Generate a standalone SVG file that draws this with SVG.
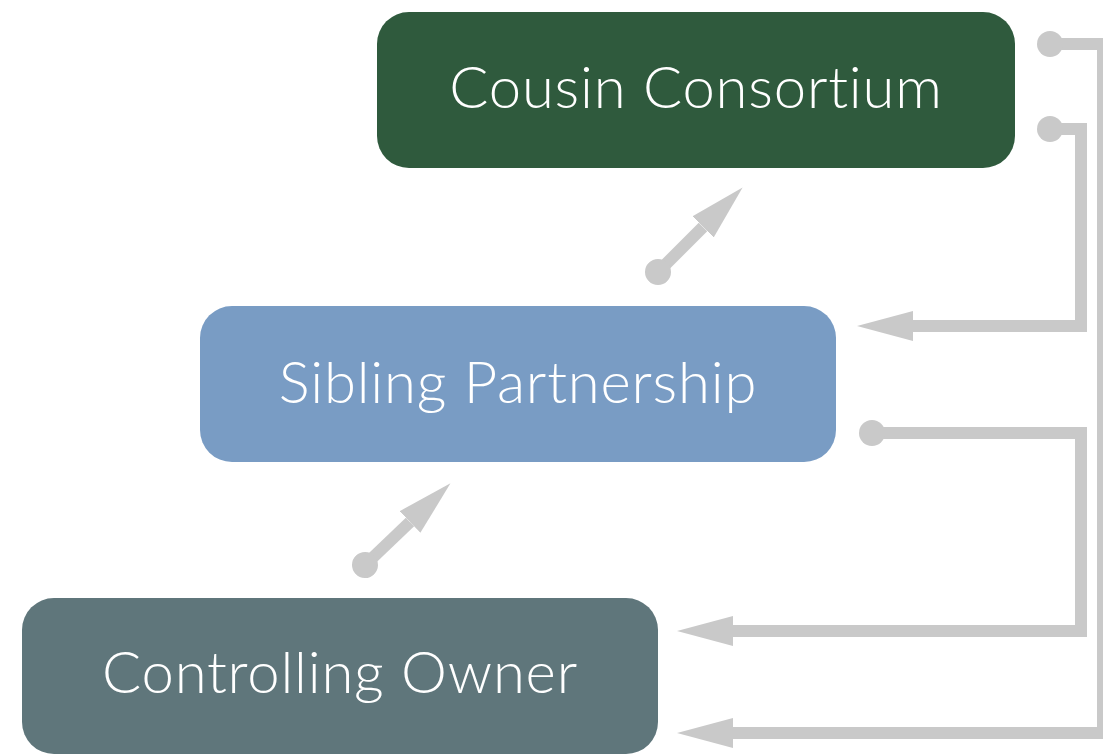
<svg xmlns="http://www.w3.org/2000/svg" width="1103" height="755" viewBox="0 0 1103 755">
  <style>
    .box-label { font-family: "Lato", "Liberation Sans", sans-serif; font-size: 58px; font-weight: 300; letter-spacing: 0.8px; fill: #ffffff; text-anchor: middle; }
    .link { fill: none; stroke: #c9c9c9; stroke-width: 12; stroke-linejoin: miter; marker-start: url(#dot); marker-end: url(#head); }
  </style>
  <defs>
    <marker id="head" markerUnits="userSpaceOnUse" viewBox="0 0 56 30" markerWidth="56" markerHeight="30" refX="0" refY="15" orient="auto">
      <path d="M0,0 L56,15 L0,30 Z" fill="#c9c9c9"/>
    </marker>
    <marker id="dot" markerUnits="userSpaceOnUse" viewBox="-13 -13 26 26" markerWidth="26" markerHeight="26" refX="0" refY="0" orient="auto">
      <circle cx="0" cy="0" r="13" fill="#c9c9c9"/>
    </marker>
  </defs>

  <rect width="1103" height="755" fill="#ffffff"/>

  <g id="connectors">
    <path class="link" d="M1050,44 H1103 V733 H733"/>
    <path class="link" d="M1050,129 H1081 V326 H913"/>
    <path class="link" d="M872,433 H1081 V631 H733"/>
    <path class="link" d="M658,272 L703,227"/>
    <path class="link" d="M365,565 L410,522"/>
  </g>

  <g id="cousin-consortium">
    <rect x="377" y="12" width="638" height="156" rx="32" fill="#2f5a3d"/>
    <text class="box-label" x="696" y="108">Cousin Consortium</text>
  </g>

  <g id="sibling-partnership">
    <rect x="200" y="306" width="636" height="156" rx="32" fill="#799cc4"/>
    <text class="box-label" x="518" y="403">Sibling Partnership</text>
  </g>

  <g id="controlling-owner">
    <rect x="22" y="598" width="636" height="156" rx="32" fill="#5f767b"/>
    <text class="box-label" x="340" y="693">Controlling Owner</text>
  </g>
</svg>
